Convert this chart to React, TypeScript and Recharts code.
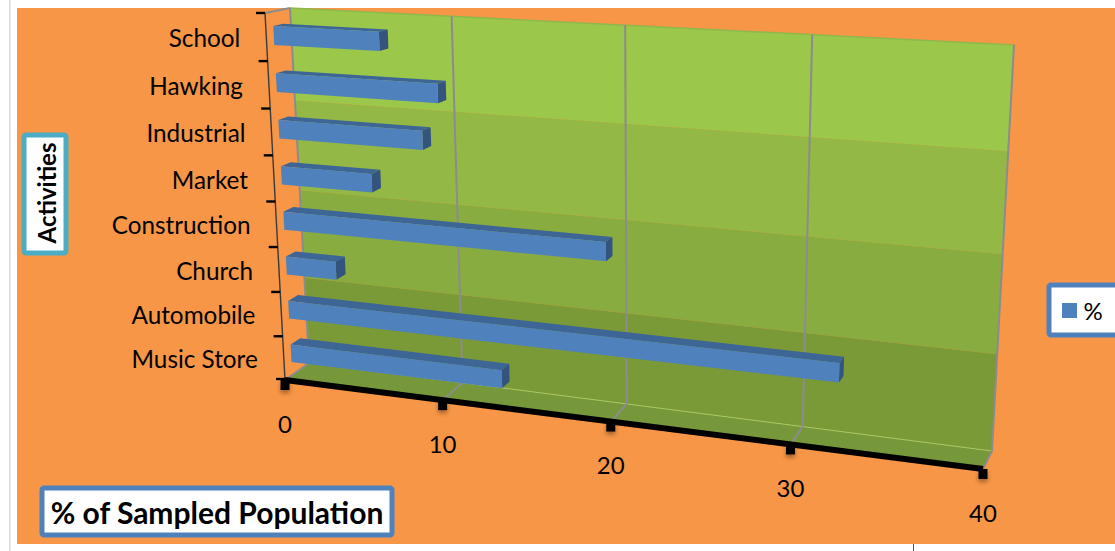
import { BarChart, Bar, XAxis, YAxis } from "recharts";

const activities = ["School", "Hawking", "Industrial", "Market", "Construction", "Church", "Automobile", "Music Store"];
const percents = [6.5, 9.9, 8.9, 5.7, 19.5, 3.2, 32.3, 13.3];
const xTicks = [0, 10, 20, 30, 40];
const seriesName = "%";

const rows = activities.map((name, i) => ({ name, value: percents[i] }));

const WIDTH = 1115;
const HEIGHT = 551;
// flat plot area that Recharts scales into; everything is then bent into the 3D view
const PLOT = { left: 100, top: 0, width: 1015, height: 500 };
const MAX = 40;
const FONT = "Lato, 'Open Sans', sans-serif";

type P = [number, number];

// maps the unit square to a quad (TL, TR, BR, BL)
function homography([p0, p1, p2, p3]: P[]) {
  const dx1 = p1[0] - p2[0];
  const dx2 = p3[0] - p2[0];
  const dx3 = p0[0] - p1[0] + p2[0] - p3[0];
  const dy1 = p1[1] - p2[1];
  const dy2 = p3[1] - p2[1];
  const dy3 = p0[1] - p1[1] + p2[1] - p3[1];
  const den = dx1 * dy2 - dx2 * dy1;
  const g = (dx3 * dy2 - dx2 * dy3) / den;
  const h = (dx1 * dy3 - dx3 * dy1) / den;
  const a = p1[0] - p0[0] + g * p1[0];
  const b = p3[0] - p0[0] + h * p3[0];
  const d = p1[1] - p0[1] + g * p1[1];
  const e = p3[1] - p0[1] + h * p3[1];
  return (u: number, v: number): P => {
    const w = g * u + h * v + 1;
    return [(a * u + b * v + p0[0]) / w, (d * u + e * v + p0[1]) / w];
  };
}

const frontPlane = homography([[265, 13], [1005, 52], [983, 469], [285, 380]]);
const backPlane = homography([[290, 8], [1014, 45], [992, 451], [309, 363]]);

// u along value axis, v down the categories, d from front (0) to back wall (1)
function project(u: number, v: number, d: number): P {
  const f = frontPlane(u, v);
  const b = backPlane(u, v);
  return [f[0] + (b[0] - f[0]) * d, f[1] + (b[1] - f[1]) * d];
}

const pts = (list: P[]) => list.map((p) => `${p[0].toFixed(1)},${p[1].toFixed(1)}`).join(" ");
const toU = (x: number) => (x - PLOT.left) / PLOT.width;
const toV = (y: number) => (y - PLOT.top) / PLOT.height;

const BAR_NEAR = 0.3;
const BAR_FAR = 0.7;

function Bar3D({ x, y, width, height }: any) {
  const u0 = toU(x);
  const u1 = toU(x + width);
  const v0 = toV(y);
  const v1 = toV(y + height);
  const front = [project(u0, v0, BAR_NEAR), project(u1, v0, BAR_NEAR), project(u1, v1, BAR_NEAR), project(u0, v1, BAR_NEAR)];
  const top = [project(u0, v0, BAR_FAR), project(u1, v0, BAR_FAR), project(u1, v0, BAR_NEAR), project(u0, v0, BAR_NEAR)];
  const end = [project(u1, v0, BAR_NEAR), project(u1, v0, BAR_FAR), project(u1, v1, BAR_FAR), project(u1, v1, BAR_NEAR)];
  return (
    <g>
      <polygon points={pts(top)} fill="#3D6595" />
      <polygon points={pts(end)} fill="#33547E" />
      <polygon points={pts(front)} fill="#4F81BD" />
    </g>
  );
}

const wallBands = ["#9BC74A", "#94B845", "#89AC40", "#7A9A37"];

function Walls() {
  const floor = [project(0, 1, 1), project(1, 1, 1), project(1, 1, 0), project(0, 1, 0)];
  return (
    <g>
      <rect x={0} y={0} width={WIDTH} height={HEIGHT} fill="#fff" />
      <rect x={9} y={0} width={1.5} height={HEIGHT} fill="#D9D9D9" />
      <rect x={17} y={8} width={WIDTH - 17} height={536} fill="#F79646" />
      <rect x={913} y={544} width={1} height={7} fill="#555" />
      {wallBands.map((fill, i) => (
        <polygon
          key={fill}
          fill={fill}
          points={pts([
            project(0, i / 4, 1),
            project(1, i / 4, 1),
            project(1, (i + 1) / 4, 1),
            project(0, (i + 1) / 4, 1),
          ])}
        />
      ))}
      <polygon points={pts(floor)} fill="#76983A" />
      <polyline points={pts([project(0, 1, 1), project(1, 1, 1)])} stroke="#A9C865" strokeWidth={1} fill="none" />
      <polyline points={pts([project(0, 0, 1), project(1, 0, 1)])} stroke="#8FB84C" strokeWidth={1.5} fill="none" />
      {xTicks.map((t) => (
        <polyline
          key={t}
          points={pts([project(t / MAX, 1, 0), project(t / MAX, 1, 1), project(t / MAX, 0, 1)])}
          stroke="#8C8C8C"
          strokeWidth={2}
          fill="none"
        />
      ))}
      <polyline points={pts([project(0, 0, 0), project(0, 0, 1)])} stroke="#8C8C8C" strokeWidth={2} fill="none" />
    </g>
  );
}

function Overlay() {
  return (
    <g>
      <polyline points={pts([project(0, 0, 0), project(0, 1, 0)])} stroke="#3A3A3A" strokeWidth={1.4} fill="none" />
      {activities.map((_, i) => {
        const p = project(0, i / activities.length, 0);
        return <line key={i} x1={p[0] - 9} y1={p[1]} x2={p[0]} y2={p[1]} stroke="#000" strokeWidth={2.4} />;
      })}
      <line x1={project(0, 1, 0)[0] - 9} y1={project(0, 1, 0)[1] - 1} x2={project(0, 1, 0)[0]} y2={project(0, 1, 0)[1] - 1} stroke="#000" strokeWidth={2.4} />
      <polyline points={pts([project(0, 1, 0), project(1, 1, 0)])} stroke="#000" strokeWidth={6} fill="none" />

      <rect x={24} y={135} width={42} height={118} rx={2} fill="#fff" stroke="#4BACC6" strokeWidth={5} />
      <text
        x={46}
        y={193}
        transform="rotate(-90 46 193)"
        textAnchor="middle"
        dominantBaseline="central"
        fontFamily={FONT}
        fontWeight={700}
        fontSize={24}
        fill="#000"
      >
        Activities
      </text>

      <rect x={42} y={488} width={350} height={47} rx={2} fill="#fff" stroke="#4F81BD" strokeWidth={5} />
      <text x={217} y={512} textAnchor="middle" dominantBaseline="central" fontFamily={FONT} fontWeight={700} fontSize={30} fill="#000">
        % of Sampled Population
      </text>

      <rect x={1049} y={285} width={70} height={50} rx={2} fill="#fff" stroke="#4F81BD" strokeWidth={5} />
      <rect x={1062} y={303} width={15} height={15} fill="#4F81BD" />
      <text x={1093} y={310} textAnchor="middle" dominantBaseline="central" fontFamily={FONT} fontSize={24} fill="#000">
        {seriesName}
      </text>
    </g>
  );
}

function XTick({ x, payload }: any) {
  const p = project(toU(x), 1, 0);
  return (
    <g>
      <rect
        x={p[0] - 4.5}
        y={p[1]}
        width={9}
        height={10}
        fill="#000"
        style={{ filter: "drop-shadow(0 3px 2px rgba(0,0,0,0.35))" }}
      />
      <text x={p[0]} y={p[1] + 43} textAnchor="middle" dominantBaseline="central" fontFamily={FONT} fontSize={24} fill="#000">
        {payload.value}
      </text>
    </g>
  );
}

function YTick({ y, payload }: any) {
  const p = project(0, toV(y), 0);
  return (
    <text x={p[0] - 26} y={p[1] + 0.5} textAnchor="end" dominantBaseline="central" fontFamily={FONT} fontSize={24.3} fill="#000">
      {payload.value}
    </text>
  );
}

export default function App() {
  return (
    <div style={{ position: "absolute", left: 0, top: 0, width: WIDTH, height: HEIGHT }}>
      <BarChart
        width={WIDTH}
        height={HEIGHT}
        layout="vertical"
        data={rows}
        margin={{ top: 0, right: 0, bottom: 0, left: 0 }}
        barCategoryGap="30%"
      >
        <Walls />
        <XAxis type="number" domain={[0, MAX]} ticks={xTicks} height={HEIGHT - PLOT.height} axisLine={false} tickLine={false} tick={XTick} interval={0} />
        <YAxis type="category" dataKey="name" width={PLOT.left} axisLine={false} tickLine={false} tick={YTick} interval={0} />
        <Bar dataKey="value" name={seriesName} isAnimationActive={false} shape={Bar3D} />
        <Overlay />
      </BarChart>
    </div>
  );
}
